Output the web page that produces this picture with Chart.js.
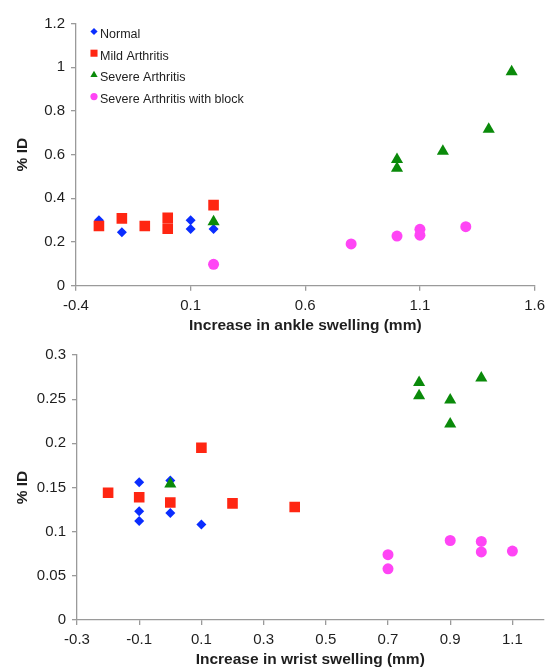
<!DOCTYPE html>
<html>
<head>
<meta charset="utf-8">
<script src="https://cdn.jsdelivr.net/npm/chart.js@4.4.1/dist/chart.umd.min.js"></script>
<style>
  html, body { margin: 0; padding: 0; background: #fff; }
  #wrap { position: relative; width: 551px; height: 669px; overflow: hidden; }
  canvas { position: absolute; left: 0; }
  #ankleChart { top: 0; }
  #wristChart { top: 340px; }
</style>
</head>
<body>
<div id="wrap">
  <canvas id="ankleChart" width="551" height="340"></canvas>
  <canvas id="wristChart" width="551" height="329"></canvas>
</div>
<script>
// series names
const seriesNames = ['Normal', 'Mild Arthritis', 'Severe Arthritis', 'Severe Arthritis with block'];

// ankle swelling (top chart)
const ankleNormalX = [-0.3, -0.2, 0.1, 0.1, 0.2];
const ankleNormalY = [0.30, 0.245, 0.30, 0.26, 0.26];
const ankleMildX = [-0.3, -0.2, -0.1, 0, 0, 0.2];
const ankleMildY = [0.273, 0.308, 0.273, 0.311, 0.261, 0.369];
const ankleSevereX = [0.2, 1.0, 1.0, 1.2, 1.4, 1.5];
const ankleSevereY = [0.293, 0.578, 0.537, 0.615, 0.716, 0.979];
const ankleBlockX = [0.2, 0.8, 1.0, 1.1, 1.1, 1.3];
const ankleBlockY = [0.098, 0.191, 0.227, 0.258, 0.231, 0.27];
const ankleXTicks = [-0.4, 0.1, 0.6, 1.1, 1.6];
const ankleYTicks = [0, 0.2, 0.4, 0.6, 0.8, 1, 1.2];

// wrist swelling (bottom chart)
const wristNormalX = [-0.1, -0.1, -0.1, 0, 0, 0.1];
const wristNormalY = [0.156, 0.123, 0.112, 0.158, 0.121, 0.108];
const wristMildX = [-0.2, -0.1, 0, 0.1, 0.2, 0.4];
const wristMildY = [0.144, 0.139, 0.133, 0.195, 0.132, 0.128];
const wristSevereX = [0, 0.8, 0.8, 0.9, 0.9, 1.0];
const wristSevereY = [0.154, 0.269, 0.254, 0.249, 0.222, 0.274];
const wristBlockX = [0.7, 0.7, 0.9, 1.0, 1.0, 1.1];
const wristBlockY = [0.074, 0.058, 0.090, 0.089, 0.077, 0.078];
const wristXTicks = [-0.3, -0.1, 0.1, 0.3, 0.5, 0.7, 0.9, 1.1];
const wristYTicks = [0, 0.05, 0.1, 0.15, 0.2, 0.25, 0.3];

const colors = ['#0a2dff', '#ff2612', '#0a8a0a', '#ff45f5'];
const styles = ['rectRot', 'rect', 'triangle', 'circle'];
const radii = [5, 7.5, 7, 5.5];

const axisColor = '#9a9a9a';
const textColor = '#1e1e1e';
const fontFamily = 'Arial, "Liberation Sans", Helvetica, sans-serif';

function toPoints(xs, ys) {
    return xs.map((x, i) => ({ x: x, y: ys[i] }));
}

function makeDatasets(seriesX, seriesY) {
    return seriesNames.map((name, i) => ({
        label: name,
        data: toPoints(seriesX[i], seriesY[i]),
        pointStyle: styles[i],
        pointRadius: radii[i],
        pointHoverRadius: radii[i],
        backgroundColor: colors[i],
        borderColor: colors[i],
        borderWidth: 0,
        showLine: false,
        order: 3 - i // later series drawn on top, like the original
    }));
}

// legend drawn inside the plot area, top left
const insideLegend = {
    id: 'insideLegend',
    afterDraw(chart, args, opts) {
        if (!opts.show) return;
        const ctx = chart.ctx;
        const area = chart.chartArea;
        ctx.save();
        ctx.font = '12.5px ' + fontFamily;
        ctx.textBaseline = 'middle';
        chart.data.datasets.forEach((ds, i) => {
            const y = area.top + 10 + i * 21.7;
            const x = area.left + 18;
            ctx.fillStyle = ds.backgroundColor;
            Chart.helpers.drawPoint(ctx, {
                pointStyle: ds.pointStyle,
                radius: ds.pointStyle === 'rect' ? 5 : (ds.pointStyle === 'triangle' ? 4.2 : 3.6),
                rotation: 0,
                borderWidth: 0
            }, x, y - 2);
            ctx.fillStyle = textColor;
            ctx.fillText(ds.label, x + 6, y + 1);
        });
        ctx.restore();
    }
};

function axisOptions(min, max, tickValues, title, isX, scaleSize) {
    return {
        type: 'linear',
        position: isX ? 'bottom' : 'left',
        min: min,
        max: max,
        afterBuildTicks: (scale) => {
            scale.ticks = tickValues.map(v => ({ value: v }));
        },
        afterFit: (scale) => {
            if (isX) scale.height = scaleSize; else scale.width = scaleSize;
        },
        border: { display: true, color: axisColor, width: 1.3 },
        grid: {
            display: true,
            drawOnChartArea: false,
            drawTicks: true,
            tickLength: 5,
            color: axisColor,
            lineWidth: 1.3
        },
        ticks: {
            color: textColor,
            padding: 6,
            font: { family: fontFamily, size: 15 },
            maxRotation: 0,
            callback: (v) => String(Math.round(v * 100) / 100)
        },
        title: {
            display: true,
            text: title,
            color: textColor,
            font: { family: fontFamily, size: 15.5, weight: 'bold' },
            padding: isX ? { top: 0, bottom: 0 } : { top: 13, bottom: 0 }
        }
    };
}

function makeChart(id, datasets, xr, yr, xTitle, padding, xHeight, yWidth, showLegend) {
    return new Chart(document.getElementById(id), {
        type: 'scatter',
        data: { datasets: datasets },
        options: {
            responsive: false,
            animation: false,
            layout: { padding: padding },
            scales: {
                x: axisOptions(xr[0], xr[1], xr.ticks, xTitle, true, xHeight),
                y: axisOptions(yr[0], yr[1], yr.ticks, '% ID', false, yWidth)
            },
            plugins: {
                legend: { display: false },
                tooltip: { enabled: false },
                insideLegend: { show: showLegend }
            }
        },
        plugins: [insideLegend]
    });
}

const ankleX = [-0.4, 1.6]; ankleX.ticks = ankleXTicks;
const ankleY = [0, 1.2]; ankleY.ticks = ankleYTicks;
const wristX = [-0.3, 1.2]; wristX.ticks = wristXTicks;
const wristY = [0, 0.3]; wristY.ticks = wristYTicks;

makeChart('ankleChart',
    makeDatasets([ankleNormalX, ankleMildX, ankleSevereX, ankleBlockX],
                 [ankleNormalY, ankleMildY, ankleSevereY, ankleBlockY]),
    ankleX, ankleY, 'Increase in ankle swelling (mm)',
    { left: 0, right: 14, top: 23.5, bottom: 5 }, 49.3, 76, true);

makeChart('wristChart',
    makeDatasets([wristNormalX, wristMildX, wristSevereX, wristBlockX],
                 [wristNormalY, wristMildY, wristSevereY, wristBlockY]),
    wristX, wristY, 'Increase in wrist swelling (mm)',
    { left: 0, right: 2, top: 10, bottom: 0 }, 49, 77, false);
</script>
</body>
</html>
